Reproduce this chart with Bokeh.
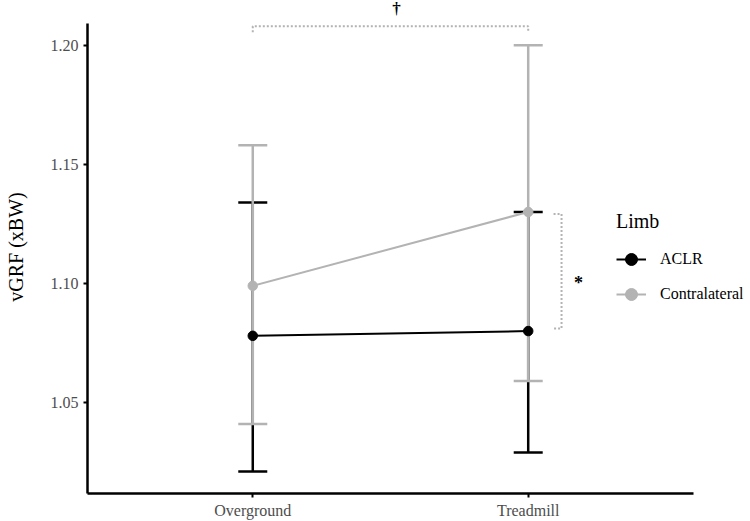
from bokeh.plotting import figure
from bokeh.models import (Range1d, FixedTicker, Whisker, TeeHead, ColumnDataSource,
                          Legend, LegendItem, Label, NumeralTickFormatter)
from bokeh.embed import file_html
from bokeh.resources import INLINE

categories = ["Overground", "Treadmill"]
aclr_mean = [1.078, 1.080]
aclr_lower = [1.021, 1.029]
aclr_upper = [1.134, 1.130]
contra_mean = [1.099, 1.130]
contra_lower = [1.041, 1.059]
contra_upper = [1.158, 1.200]
y_ticks = [1.05, 1.10, 1.15, 1.20]

# significance brackets (data coordinates)
top_bracket_x = [1, 1, 2, 2]
top_bracket_y = [1.2055, 1.2080, 1.2080, 1.2055]
side_bracket_x = [2.092, 2.121, 2.121, 2.092]
side_bracket_y = [1.1292, 1.1292, 1.0811, 1.0811]

FONT = "Liberation Serif"
GREY = "#b3b3b3"
xpos = [i + 1 for i in range(len(categories))]

X_AXIS = (0.4, 2.6)
Y_AXIS = (1.0118, 1.2092)

p = figure(width=750, height=521, output_backend="svg", toolbar_location=None,
           x_range=Range1d(0.4, 2.807), y_range=Range1d(1.0118, 1.2188),
           min_border_left=87, min_border_right=0, min_border_top=0, min_border_bottom=28)
p.outline_line_color = None
p.grid.visible = False
p.background_fill_color = "white"

src_a = ColumnDataSource(dict(x=xpos, m=aclr_mean, lo=aclr_lower, hi=aclr_upper))
src_c = ColumnDataSource(dict(x=xpos, m=contra_mean, lo=contra_lower, hi=contra_upper))

for src, col in ((src_a, "black"), (src_c, GREY)):
    w = Whisker(base="x", lower="lo", upper="hi", source=src, level="underlay",
                line_color=col, line_width=2.5,
                upper_head=TeeHead(size=29, line_color=col, line_width=2.5),
                lower_head=TeeHead(size=29, line_color=col, line_width=2.5))
    p.add_layout(w)

la = p.line("x", "m", source=src_a, line_color="black", line_width=2)
lc = p.line("x", "m", source=src_c, line_color=GREY, line_width=2)
sa = p.scatter("x", "m", source=src_a, size=9.5, color="black")
sc = p.scatter("x", "m", source=src_c, size=9.5, color=GREY)

p.line(top_bracket_x, top_bracket_y, line_color=GREY, line_width=2, line_dash="2 2")
p.line(side_bracket_x, side_bracket_y, line_color=GREY, line_width=2, line_dash="2 2")

p.add_layout(Label(x=1.522, y=1.2155, text="†", text_font=FONT, text_font_size="17px",
                   text_font_style="bold",
                   text_align="center", text_baseline="middle", text_color="black"))
p.add_layout(Label(x=2.183, y=1.100, text="*", text_font=FONT, text_font_size="18px",
                   text_font_style="bold",
                   text_align="center", text_baseline="middle", text_color="black"))

# axes
p.xaxis.ticker = FixedTicker(ticks=xpos)
p.xaxis.major_label_overrides = {x: c for x, c in zip(xpos, categories)}
p.xaxis.bounds = X_AXIS
p.yaxis.ticker = FixedTicker(ticks=y_ticks)
p.yaxis.formatter = NumeralTickFormatter(format="0.00")
p.yaxis.bounds = Y_AXIS
for ax in (p.xaxis[0], p.yaxis[0]):
    ax.axis_line_width = 2.5
    ax.axis_line_color = "black"
    ax.major_tick_line_width = 2
    ax.major_tick_line_color = "black"
    ax.major_tick_in = 0
    ax.major_tick_out = 4
    ax.minor_tick_line_color = None
    ax.major_label_text_font = FONT
    ax.major_label_text_font_size = "16px"
    ax.major_label_text_color = "#4d4d4d"
    ax.major_label_standoff = 5
p.xaxis.major_label_standoff = 4
p.yaxis.axis_label = "vGRF (xBW)"
p.yaxis.axis_label_text_font = FONT
p.yaxis.axis_label_text_font_size = "20px"
p.yaxis.axis_label_text_font_style = "normal"
p.yaxis.axis_label_text_color = "black"
p.yaxis.axis_label_standoff = 21

legend = Legend(items=[LegendItem(label="ACLR", renderers=[la, sa]),
                       LegendItem(label="Contralateral", renderers=[lc, sc])],
                location=(529, 184), title="Limb",
                title_text_font=FONT, title_text_font_size="20px", title_text_font_style="normal",
                title_text_color="black", title_standoff=11,
                label_text_font=FONT, label_text_font_size="16px", label_text_color="black",
                glyph_width=30, glyph_height=30, label_height=30, spacing=5,
                label_standoff=14, padding=0, margin=0,
                border_line_color=None, background_fill_alpha=0)
p.add_layout(legend)

open("out.html", "w").write(file_html(p, INLINE))
